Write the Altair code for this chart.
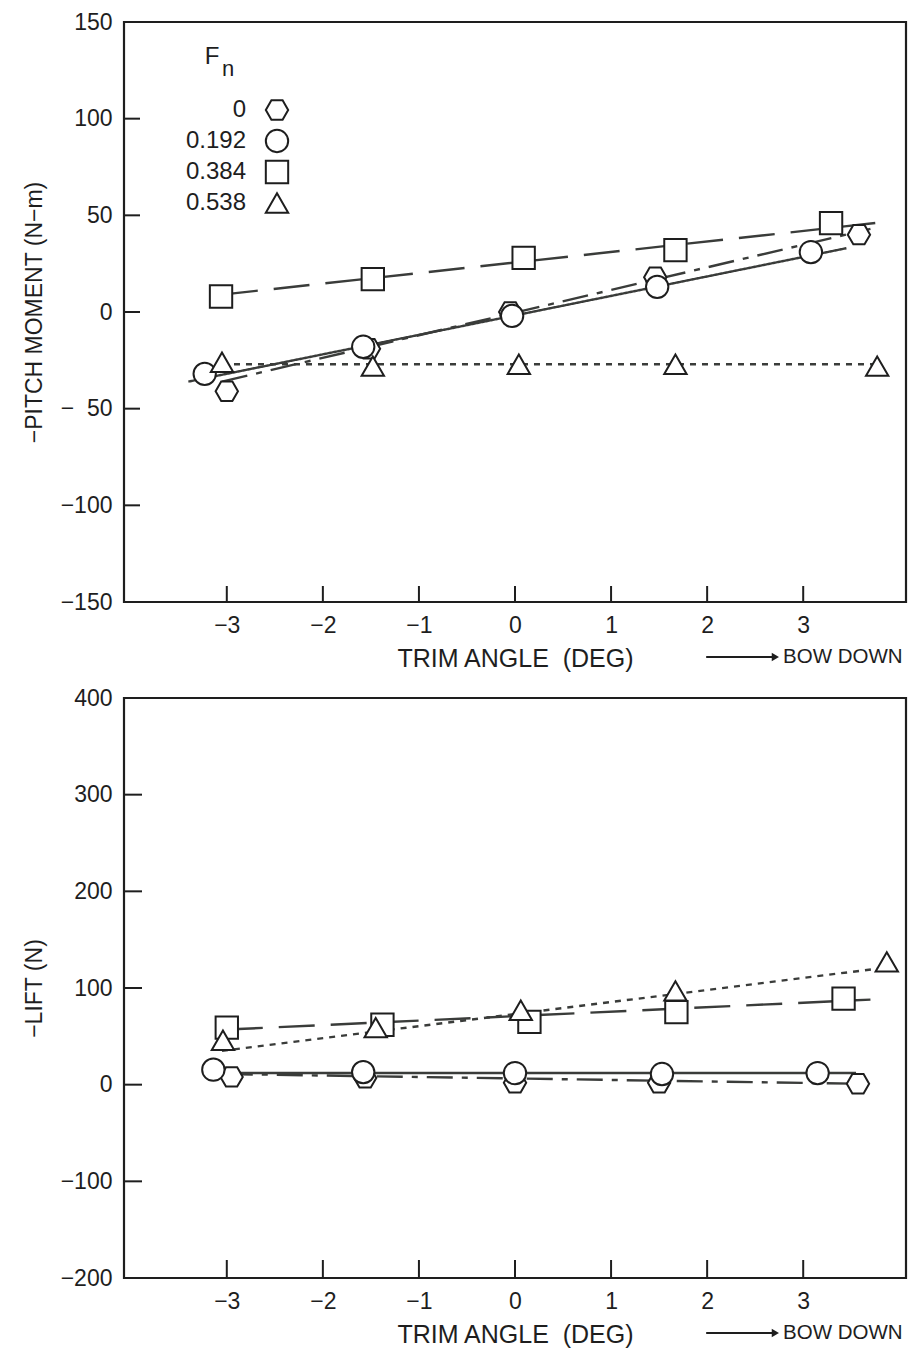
import altair as alt
import pandas as pd

FONT = "Liberation Sans"
INK = "#1e1e1e"
LINE_INK = "#3a3c3a"
NB = "\u00a0"

FN_LEVELS = ["0", "0.192", "0.384", "0.538"]

# ---------- top panel: -PITCH MOMENT (N-m) ----------
PM_X_FN0 = [-3.0, -1.52, -0.05, 1.46, 3.58]
PM_Y_FN0 = [-41, -19, 0, 18, 40]
PM_X_FN192 = [-3.23, -1.58, -0.03, 1.48, 3.08]
PM_Y_FN192 = [-32, -18, -2, 13, 31]
PM_X_FN384 = [-3.06, -1.48, 0.09, 1.67, 3.29]
PM_Y_FN384 = [8, 17, 28, 32, 46]
PM_X_FN538 = [-3.05, -1.48, 0.04, 1.67, 3.77]
PM_Y_FN538 = [-26, -28, -27, -27, -28]

# fitted lines (start, end)
PM_FIT_X_FN0 = [-3.05, 3.7]
PM_FIT_Y_FN0 = [-36, 43]
PM_FIT_X_FN192 = [-3.4, 3.45]
PM_FIT_Y_FN192 = [-36, 33]
PM_FIT_X_FN384 = [-3.05, 3.75]
PM_FIT_Y_FN384 = [9, 46]
PM_FIT_X_FN538 = [-3.05, 3.75]
PM_FIT_Y_FN538 = [-27, -27]

# ---------- bottom panel: -LIFT (N) ----------
LF_X_FN0 = [-2.95, -1.56, 0.0, 1.5, 3.57]
LF_Y_FN0 = [8, 7, 2, 2, 1]
LF_X_FN192 = [-3.14, -1.58, 0.0, 1.53, 3.15]
LF_Y_FN192 = [15.5, 13, 12, 11, 12]
LF_X_FN384 = [-3.0, -1.38, 0.15, 1.68, 3.42]
LF_Y_FN384 = [59, 62, 65, 75, 89]
LF_X_FN538 = [-3.04, -1.45, 0.06, 1.67, 3.87]
LF_Y_FN538 = [46, 59, 77, 97, 127]

LF_FIT_X_FN0 = [-3.0, 3.55]
LF_FIT_Y_FN0 = [11, 1]
LF_FIT_X_FN192 = [-2.95, 3.55]
LF_FIT_Y_FN192 = [12, 12]
LF_FIT_X_FN384 = [-3.0, 3.7]
LF_FIT_Y_FN384 = [57, 88]
LF_FIT_X_FN538 = [-3.05, 3.85]
LF_FIT_Y_FN538 = [35, 121]

# axes
X_TICKS = [-3, -2, -1, 0, 1, 2, 3]
X_DOMAIN = [-4.07, 4.07]
PM_Y_TICKS = [-150, -100, -50, 0, 50, 100, 150]
PM_Y_DOMAIN = [-150, 150]
LF_Y_TICKS = [-200, -100, 0, 100, 200, 300, 400]
LF_Y_DOMAIN = [-200, 400]

W, H = 782, 580

HEX = "M-1,0L-0.5,-0.866L0.5,-0.866L1,0L0.5,0.866L-0.5,0.866Z"
SHAPES = [HEX, "circle", "square", "triangle-up"]
DASHES = [[26, 9, 6, 9], [1, 0], [36, 16], [6, 6]]
SHAPE_SCALE = alt.Scale(domain=FN_LEVELS, range=SHAPES)
MARK_SIZE = 500


def frame(xs_lists, ys_lists):
    rows = []
    for fn, xs, ys in zip(FN_LEVELS, xs_lists, ys_lists):
        for x, y in zip(xs, ys):
            rows.append({"fn": fn, "x": x, "y": y})
    return pd.DataFrame(rows)


def panel(pts, fits, ydom, yticks, ytitle, ylabel_expr=None, tick_len=16):
    xs = alt.Scale(domain=X_DOMAIN, nice=False, zero=False)
    ys = alt.Scale(domain=ydom, nice=False, zero=False)
    yaxis_kw = dict(values=yticks, title=ytitle, domain=False, ticks=False, grid=False,
                    labelPadding=12, titlePadding=14, format="d", titleFontSize=23)
    if ylabel_expr:
        yaxis_kw["labelExpr"] = ylabel_expr
    xaxis = alt.Axis(values=X_TICKS, title="TRIM ANGLE" + NB + " (DEG)", domain=False,
                     ticks=False, grid=False, labelPadding=12, titlePadding=9, format="d",
                     titleFontSize=25)
    lines = alt.Chart(fits).mark_line(strokeWidth=2.4, color=LINE_INK, clip=True).encode(
        x=alt.X("x:Q", scale=xs, axis=xaxis),
        y=alt.Y("y:Q", scale=ys, axis=alt.Axis(**yaxis_kw)),
        detail="fn:N",
        strokeDash=alt.StrokeDash("fn:N", scale=alt.Scale(domain=FN_LEVELS, range=DASHES),
                                  legend=None),
    )
    points = alt.Chart(pts).mark_point(filled=True, fill="white", stroke=INK, strokeWidth=2,
                                       size=MARK_SIZE, opacity=1).encode(
        x="x:Q",
        y="y:Q",
        shape=alt.Shape("fn:N", scale=SHAPE_SCALE, legend=None),
    )
    xt = alt.Chart(pd.DataFrame({"x": X_TICKS})).mark_rule(color=INK, strokeWidth=2).encode(
        x="x:Q", y=alt.value(H), y2=alt.value(H - tick_len))
    yt = alt.Chart(pd.DataFrame({"y": yticks})).mark_rule(color=INK, strokeWidth=2).encode(
        y="y:Q", x=alt.value(0), x2=alt.value(tick_len))
    arrow = alt.Chart().mark_rule(color=INK, strokeWidth=2).encode(
        x=alt.datum(1.99), x2=alt.datum(2.70), y=alt.value(H + 55))
    head = alt.Chart().mark_point(shape="triangle-right", filled=True, color=INK, size=70,
                                  opacity=1).encode(x=alt.datum(2.71), y=alt.value(H + 55))
    bow = alt.Chart().mark_text(align="left", baseline="middle", font=FONT, fontSize=20.5,
                                color=INK).encode(x=alt.datum(2.79), y=alt.value(H + 55),
                                                  text=alt.value("BOW DOWN"))
    return alt.layer(lines, xt, yt, points, arrow, head, bow)


top_pts = frame([PM_X_FN0, PM_X_FN192, PM_X_FN384, PM_X_FN538],
                [PM_Y_FN0, PM_Y_FN192, PM_Y_FN384, PM_Y_FN538])
top_fit = frame([PM_FIT_X_FN0, PM_FIT_X_FN192, PM_FIT_X_FN384, PM_FIT_X_FN538],
                [PM_FIT_Y_FN0, PM_FIT_Y_FN192, PM_FIT_Y_FN384, PM_FIT_Y_FN538])
bot_pts = frame([LF_X_FN0, LF_X_FN192, LF_X_FN384, LF_X_FN538],
                [LF_Y_FN0, LF_Y_FN192, LF_Y_FN384, LF_Y_FN538])
bot_fit = frame([LF_FIT_X_FN0, LF_FIT_X_FN192, LF_FIT_X_FN384, LF_FIT_X_FN538],
                [LF_FIT_Y_FN0, LF_FIT_Y_FN192, LF_FIT_Y_FN384, LF_FIT_Y_FN538])

# ---- legend (Fn key), drawn as its own small layer with a row scale ----
legend_df = pd.DataFrame({"fn": FN_LEVELS})
row_y = alt.Y("fn:N", scale=alt.Scale(domain=FN_LEVELS, range=[88, 181], padding=0),
              axis=None)
leg_sym = alt.Chart(legend_df).mark_point(filled=True, fill="white", stroke=INK,
                                          strokeWidth=2, size=MARK_SIZE, opacity=1).encode(
    x=alt.value(153), y=row_y, shape=alt.Shape("fn:N", scale=SHAPE_SCALE, legend=None))
leg_lab = alt.Chart(legend_df).transform_calculate(
    lab="datum.fn == '0' ? '0" + NB * 3 + "' : datum.fn"
).mark_text(align="right", baseline="middle", font=FONT, fontSize=24, color=INK).encode(
    x=alt.value(122), y=row_y, text="lab:N")
leg_f = alt.Chart().mark_text(align="center", baseline="middle", font=FONT, fontSize=24,
                              color=INK).encode(x=alt.value(88), y=alt.value(35),
                                                text=alt.value("F"))
leg_n = alt.Chart().mark_text(align="center", baseline="middle", font=FONT, fontSize=22,
                              color=INK).encode(x=alt.value(104), y=alt.value(47),
                                                text=alt.value("n"))
legend_layer = alt.layer(leg_sym, leg_lab, leg_f, leg_n)

top = alt.layer(
    panel(top_pts, top_fit, PM_Y_DOMAIN, PM_Y_TICKS, "\u2212PITCH MOMENT (N\u2212m)",
          ylabel_expr="datum.value == -50 ? '\u2212" + NB * 2 + "50' : datum.label"),
    legend_layer,
).resolve_scale(y="independent").properties(width=W, height=H)

bottom = panel(bot_pts, bot_fit, LF_Y_DOMAIN, LF_Y_TICKS, "\u2212LIFT (N)",
               tick_len=18).properties(width=W, height=H)

chart = alt.vconcat(top, bottom, spacing=96, bounds="flush").properties(
    padding={"left": 22, "top": 9, "right": 5, "bottom": 2},
    background="white",
).configure_view(stroke=INK, strokeWidth=2.2).configure_axis(
    labelFont=FONT, labelFontSize=23, labelColor=INK,
    titleFont=FONT, titleFontSize=24, titleFontWeight="normal", titleColor=INK,
)

chart.save("out.html", embed_options={"renderer": "svg", "actions": False})
